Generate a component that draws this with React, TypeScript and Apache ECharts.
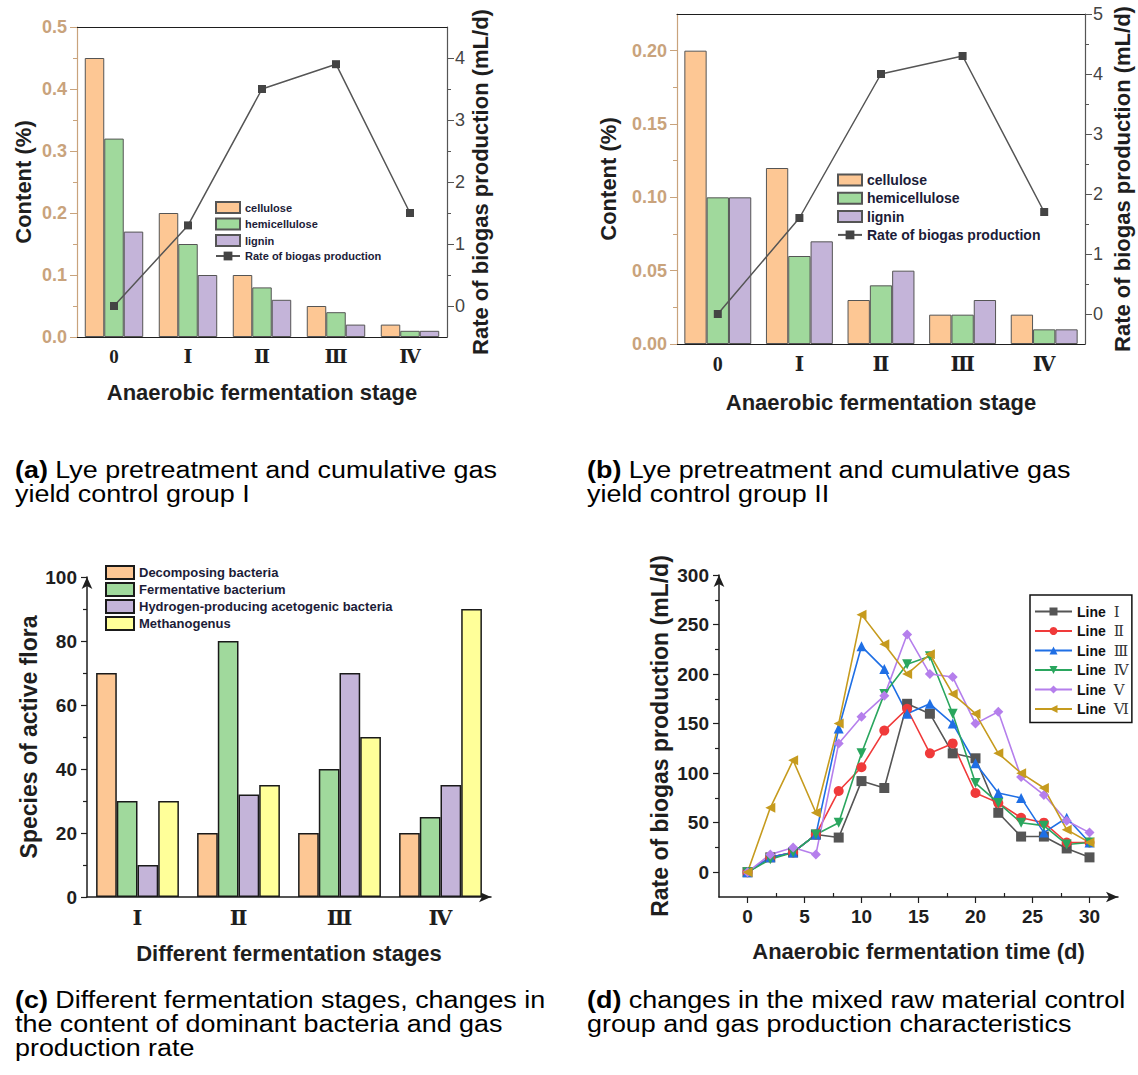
import React, { useEffect, useRef } from "react";
import * as echarts from "echarts";

// ---------- data ----------
const stagesAB = ["0", "Ⅰ", "Ⅱ", "Ⅲ", "Ⅳ"];
const celluloseA = [0.45, 0.2, 0.1, 0.05, 0.02];
const hemicelluloseA = [0.32, 0.15, 0.08, 0.04, 0.01];
const ligninA = [0.17, 0.1, 0.06, 0.02, 0.01];
const rateA = [0, 1.3, 3.5, 3.9, 1.5];

const celluloseB = [0.2, 0.12, 0.03, 0.02, 0.02];
const hemicelluloseB = [0.1, 0.06, 0.04, 0.02, 0.01];
const ligninB = [0.1, 0.07, 0.05, 0.03, 0.01];
const rateB = [0, 1.6, 4.0, 4.3, 1.7];

const stagesC = ["Ⅰ", "Ⅱ", "Ⅲ", "Ⅳ"];
const decomposing = [70, 20, 20, 20];
const fermentative = [30, 80, 40, 25];
const hydrogenProducing = [10, 32, 70, 35];
const methanogenus = [30, 35, 50, 90];

const days = [0, 2, 4, 6, 8, 10, 12, 14, 16, 18, 20, 22, 24, 26, 28, 30];
const lineI = [0, 15, 20, 38, 35, 92, 85, 170, 160, 120, 115, 60, 36, 36, 24, 15];
const lineII = [0, 15, 20, 38, 82, 106, 143, 165, 120, 130, 80, 70, 55, 50, 30, 30];
const lineIII = [0, 15, 20, 38, 145, 228, 205, 160, 170, 150, 110, 80, 75, 40, 55, 30];
const lineIV = [0, 13, 20, 38, 50, 120, 180, 210, 218, 160, 90, 70, 50, 47, 28, 30];
const lineV = [0, 18, 25, 18, 130, 157, 178, 240, 200, 197, 150, 162, 96, 78, 52, 40];
const lineVI = [0, 65, 113, 60, 150, 260, 230, 200, 220, 180, 160, 120, 100, 85, 43, 30];

const rightTicksA = [0, 1, 2, 3, 4];
const rightMinorA = [0.5, 1.5, 2.5, 3.5];
const leftTicksB = [0, 0.05, 0.1, 0.15, 0.2];
const leftMinorB = [0.025, 0.075, 0.125, 0.175];
const rightTicksB = [0, 1, 2, 3, 4, 5];
const rightMinorB = [0.5, 1.5, 2.5, 3.5, 4.5];
const yTicksD = [0, 50, 100, 150, 200, 250, 300];
const yMinorD = [25, 75, 125, 175, 225, 275];
const xTicksD = [0, 5, 10, 15, 20, 25, 30];
const xMinorD = [2.5, 7.5, 12.5, 17.5, 22.5, 27.5];

const captionA = ["{b|(a)} Lye pretreatment and cumulative gas", "yield control group I"];
const captionB = ["{b|(b)} Lye pretreatment and cumulative gas", "yield control group II"];
const captionC = [
  "{b|(c)} Different fermentation stages, changes in",
  "the content of dominant bacteria and gas",
  "production rate",
];
const captionD = [
  "{b|(d)} changes in the mixed raw material control",
  "group and gas production characteristics",
];

// ---------- styles ----------
const SANS = "'Liberation Sans', Arial, sans-serif";
const SERIF = "'Liberation Serif', 'DejaVu Serif', serif";
const TAN = "#c9a37c";
const DARK = "#1e1e1e";
const C_ORANGE = "#fdc794";
const C_GREEN = "#a0d99c";
const C_PURPLE = "#c4b4d9";
const C_YELLOW = "#ffff99";

const nameStyle = (size: number) => ({
  fontSize: size,
  fontWeight: "bold",
  fontFamily: SANS,
  color: DARK,
});

function barSeries(name: string, data: number[], color: string, xi: number, yi: number, border: string, bw: number, gap: string) {
  return {
    type: "bar",
    name,
    data,
    xAxisIndex: xi,
    yAxisIndex: yi,
    barGap: "0%",
    barCategoryGap: gap,
    itemStyle: { color, borderColor: border, borderWidth: bw },
  };
}

function rateSeries(data: number[], xi: number, yi: number) {
  return {
    type: "line",
    name: "Rate of biogas production",
    data,
    xAxisIndex: xi,
    yAxisIndex: yi,
    symbol: "rect",
    symbolSize: 8,
    itemStyle: { color: "#444" },
    lineStyle: { color: "#555", width: 1.5 },
    z: 5,
  };
}

const lineNames = ["Line Ⅰ", "Line Ⅱ", "Line Ⅲ", "Line Ⅳ", "Line Ⅴ", "Line Ⅵ"];
const lineData = [lineI, lineII, lineIII, lineIV, lineV, lineVI];
const lineColors = ["#555555", "#f03a3a", "#1f6fe5", "#2aa65e", "#b57fec", "#c69b1e"];
const lineSymbols = ["rect", "circle", "triangle", "triangle", "diamond", "triangle"];
const lineRotates = [0, 0, 0, 180, 0, 90];

function captionElements(lines: string[], x: number, y0: number) {
  return lines.map((t, i) => ({
    type: "text",
    x,
    y: y0 + i * 23.8,
    scaleX: 1.145,
    style: {
      text: t,
      fontSize: 23.5,
      fontFamily: SANS,
      fill: "#000",
      verticalAlign: "middle",
      align: "left",
      rich: {
        b: { fontSize: 23.5, fontFamily: SANS, fontWeight: "bold", fill: "#000" },
      },
    },
  }));
}

function buildOption() {
  const series: any[] = [
    barSeries("cellulose", celluloseA, C_ORANGE, 0, 0, "#555", 1, "21%"),
    barSeries("hemicellulose", hemicelluloseA, C_GREEN, 0, 0, "#555", 1, "21%"),
    barSeries("lignin", ligninA, C_PURPLE, 0, 0, "#555", 1, "21%"),
    rateSeries(rateA, 0, 1),
    barSeries("cellulose", celluloseB, C_ORANGE, 2, 3, "#555", 1, "18%"),
    barSeries("hemicellulose", hemicelluloseB, C_GREEN, 2, 3, "#555", 1, "18%"),
    barSeries("lignin", ligninB, C_PURPLE, 2, 3, "#555", 1, "18%"),
    rateSeries(rateB, 2, 5),
    barSeries("Decomposing bacteria", decomposing, C_ORANGE, 4, 7, "#1a1a1a", 1.5, "18%"),
    barSeries("Fermentative bacterium", fermentative, C_GREEN, 4, 7, "#1a1a1a", 1.5, "18%"),
    barSeries("Hydrogen-producing acetogenic bacteria", hydrogenProducing, C_PURPLE, 4, 7, "#1a1a1a", 1.5, "18%"),
    barSeries("Methanogenus", methanogenus, C_YELLOW, 4, 7, "#1a1a1a", 1.5, "18%"),
  ];
  lineNames.forEach((n, i) => {
    series.push({
      type: "line",
      name: n,
      xAxisIndex: 5,
      yAxisIndex: 8,
      data: days.map((d, k) => [d, lineData[i][k]]),
      symbol: lineSymbols[i],
      symbolRotate: lineRotates[i],
      symbolSize: 10,
      itemStyle: { color: lineColors[i] },
      lineStyle: { color: lineColors[i], width: 1.6 },
    });
  });

  const xAxis: any[] = [
    // 0: (a) bottom
    {
      type: "category", gridIndex: 0, position: "bottom", data: stagesAB,
      axisLine: { onZero: false, lineStyle: { color: DARK, width: 1.2 } },
      axisTick: { alignWithLabel: true, length: 6, lineStyle: { color: DARK } },
      axisLabel: { fontFamily: SERIF, fontWeight: "bold", fontSize: 19, color: DARK, margin: 10 },
      name: "Anaerobic fermentation stage", nameLocation: "middle", nameGap: 44, nameTextStyle: nameStyle(22),
    },
    // 1: (a) top border
    {
      type: "category", gridIndex: 0, position: "top", data: stagesAB,
      axisLine: { onZero: false, lineStyle: { color: DARK, width: 1.2 } },
      axisTick: { alignWithLabel: true, inside: true, length: 5, lineStyle: { color: DARK } },
      axisLabel: { show: false },
    },
    // 2: (b) bottom
    {
      type: "category", gridIndex: 1, position: "bottom", data: stagesAB,
      axisLine: { onZero: false, lineStyle: { color: DARK, width: 1.2 } },
      axisTick: { alignWithLabel: true, length: 6, lineStyle: { color: DARK } },
      axisLabel: { fontFamily: SERIF, fontWeight: "bold", fontSize: 20, color: DARK, margin: 10 },
      name: "Anaerobic fermentation stage", nameLocation: "middle", nameGap: 47, nameTextStyle: nameStyle(22),
    },
    // 3: (b) top border
    {
      type: "category", gridIndex: 1, position: "top", data: stagesAB,
      axisLine: { onZero: false, lineStyle: { color: DARK, width: 1.2 } },
      axisTick: { alignWithLabel: true, inside: true, length: 5, lineStyle: { color: DARK } },
      axisLabel: { show: false },
    },
    // 4: (c) bottom
    {
      type: "category", gridIndex: 2, position: "bottom", data: stagesC,
      axisLine: { onZero: false, symbol: ["none", "arrow"], symbolSize: [8, 12], lineStyle: { color: DARK, width: 1.5 } },
      axisTick: { length: 6, lineStyle: { color: DARK, width: 1.2 } },
      axisLabel: { fontFamily: SERIF, fontWeight: "bold", fontSize: 21, color: DARK, margin: 10 },
      name: "Different fermentation stages", nameLocation: "middle", nameGap: 45, nameTextStyle: nameStyle(22),
    },
    // 5: (d) bottom
    {
      type: "value", gridIndex: 3, position: "bottom", min: -2.5, max: 32.5,
      axisLine: { onZero: false, symbol: ["none", "arrow"], symbolSize: [8, 12], lineStyle: { color: DARK, width: 1.5 } },
      axisTick: { customValues: xTicksD, length: 6, lineStyle: { color: DARK, width: 1.2 } },
      axisLabel: { customValues: xTicksD, fontFamily: SANS, fontWeight: "bold", fontSize: 19, color: DARK, margin: 10 },
      splitLine: { show: false },
      name: "Anaerobic fermentation time (d)", nameLocation: "middle", nameGap: 43, nameTextStyle: nameStyle(22),
    },
    // 6: (d) minor ticks
    {
      type: "value", gridIndex: 3, position: "bottom", min: -2.5, max: 32.5,
      axisLine: { onZero: false, show: false },
      axisTick: { customValues: xMinorD, inside: true, length: 4, lineStyle: { color: DARK, width: 1.2 } },
      axisLabel: { show: false },
      splitLine: { show: false },
    },
  ];

  const yAxis: any[] = [
    // 0: (a) left
    {
      type: "value", gridIndex: 0, position: "left", min: 0, max: 0.5, interval: 0.1,
      axisLine: { show: true, onZero: false, lineStyle: { color: TAN, width: 1.2 } },
      axisTick: { show: true, length: 7, lineStyle: { color: TAN } },
      minorTick: { show: true, splitNumber: 2, length: 4, lineStyle: { color: TAN } },
      axisLabel: { formatter: (v: number) => v.toFixed(1), fontFamily: SANS, fontWeight: "bold", fontSize: 18, color: TAN, margin: 10 },
      splitLine: { show: false },
      name: "Content (%)", nameLocation: "middle", nameGap: 43, nameTextStyle: nameStyle(22),
    },
    // 1: (a) right
    {
      type: "value", gridIndex: 0, position: "right", min: -0.5, max: 4.5,
      axisLine: { show: true, onZero: false, lineStyle: { color: "#555", width: 1.2 } },
      axisTick: { show: true, customValues: rightTicksA, length: 7, lineStyle: { color: "#555" } },
      axisLabel: { customValues: rightTicksA, fontFamily: SANS, fontSize: 18, color: "#444", margin: 8 },
      splitLine: { show: false },
      name: "Rate of biogas production (mL/d)", nameLocation: "middle", nameGap: 22, nameTextStyle: nameStyle(22),
    },
    // 2: (a) right minor
    {
      type: "value", gridIndex: 0, position: "right", min: -0.5, max: 4.5,
      axisLine: { show: false, onZero: false },
      axisTick: { show: true, customValues: rightMinorA, length: 4, lineStyle: { color: "#555" } },
      axisLabel: { show: false },
      splitLine: { show: false },
    },
    // 3: (b) left
    {
      type: "value", gridIndex: 1, position: "left", min: 0, max: 0.225,
      axisLine: { show: true, onZero: false, lineStyle: { color: TAN, width: 1.2 } },
      axisTick: { show: true, customValues: leftTicksB, length: 7, lineStyle: { color: TAN } },
      axisLabel: { customValues: leftTicksB, formatter: (v: number) => v.toFixed(2), fontFamily: SANS, fontWeight: "bold", fontSize: 18, color: TAN, margin: 10 },
      splitLine: { show: false },
      name: "Content (%)", nameLocation: "middle", nameGap: 58, nameTextStyle: nameStyle(22),
    },
    // 4: (b) left minor
    {
      type: "value", gridIndex: 1, position: "left", min: 0, max: 0.225,
      axisLine: { show: false, onZero: false },
      axisTick: { show: true, customValues: leftMinorB, length: 4, lineStyle: { color: TAN } },
      axisLabel: { show: false },
      splitLine: { show: false },
    },
    // 5: (b) right
    {
      type: "value", gridIndex: 1, position: "right", min: -0.5, max: 5,
      axisLine: { show: true, onZero: false, lineStyle: { color: "#555", width: 1.2 } },
      axisTick: { show: true, customValues: rightTicksB, length: 7, lineStyle: { color: "#555" } },
      axisLabel: { customValues: rightTicksB, fontFamily: SANS, fontSize: 18, color: "#444", margin: 8 },
      splitLine: { show: false },
      name: "Rate of biogas production (mL/d)", nameLocation: "middle", nameGap: 26, nameTextStyle: nameStyle(22),
    },
    // 6: (b) right minor
    {
      type: "value", gridIndex: 1, position: "right", min: -0.5, max: 5,
      axisLine: { show: false, onZero: false },
      axisTick: { show: true, customValues: rightMinorB, length: 4, lineStyle: { color: "#555" } },
      axisLabel: { show: false },
      splitLine: { show: false },
    },
    // 7: (c) left
    {
      type: "value", gridIndex: 2, position: "left", min: 0, max: 100, interval: 20,
      axisLine: { show: true, onZero: false, symbol: ["none", "arrow"], symbolSize: [8, 12], lineStyle: { color: DARK, width: 1.5 } },
      axisTick: { show: true, length: 6, lineStyle: { color: DARK, width: 1.2 } },
      minorTick: { show: true, splitNumber: 2, length: 4, lineStyle: { color: DARK, width: 1.2 } },
      axisLabel: { fontFamily: SANS, fontWeight: "bold", fontSize: 19, color: DARK, margin: 10 },
      splitLine: { show: false },
      name: "Species of active flora", nameLocation: "middle", nameGap: 47, nameTextStyle: nameStyle(23),
    },
    // 8: (d) left
    {
      type: "value", gridIndex: 3, position: "left", min: -25, max: 300,
      axisLine: { show: true, onZero: false, symbol: ["none", "arrow"], symbolSize: [8, 12], lineStyle: { color: DARK, width: 1.5 } },
      axisTick: { show: true, customValues: yTicksD, length: 6, lineStyle: { color: DARK, width: 1.2 } },
      axisLabel: { customValues: yTicksD, fontFamily: SANS, fontWeight: "bold", fontSize: 19, color: DARK, margin: 10 },
      splitLine: { show: false },
      name: "Rate of biogas production (mL/d)", nameLocation: "middle", nameGap: 48, nameTextStyle: nameStyle(23),
    },
    // 9: (d) left minor
    {
      type: "value", gridIndex: 3, position: "left", min: -25, max: 300,
      axisLine: { show: false, onZero: false },
      axisTick: { show: true, customValues: yMinorD, length: 4, lineStyle: { color: DARK, width: 1.2 } },
      axisLabel: { show: false },
      splitLine: { show: false },
    },
  ];

  const legendText = (size: number) => ({ fontSize: size, fontWeight: "bold", fontFamily: SANS, color: "#1c1c38" });

  const legend: any[] = [
    {
      orient: "vertical", left: 215, top: 201, padding: 0, itemWidth: 24, itemHeight: 11, itemGap: 3.5,
      data: [
        { name: "cellulose", icon: "rect" },
        { name: "hemicellulose", icon: "rect" },
        { name: "lignin", icon: "rect" },
        { name: "Rate of biogas production" },
      ],
      textStyle: legendText(11),
    },
    {
      orient: "vertical", left: 837, top: 173, padding: 0, itemWidth: 24, itemHeight: 11, itemGap: 4.3,
      data: [
        { name: "cellulose", icon: "rect" },
        { name: "hemicellulose", icon: "rect" },
        { name: "lignin", icon: "rect" },
        { name: "Rate of biogas production" },
      ],
      textStyle: legendText(14),
    },
    {
      orient: "vertical", left: 105, top: 565, padding: 0, itemWidth: 28, itemHeight: 13, itemGap: 2,
      data: [
        { name: "Decomposing bacteria", icon: "rect" },
        { name: "Fermentative bacterium", icon: "rect" },
        { name: "Hydrogen-producing acetogenic bacteria", icon: "rect" },
        { name: "Methanogenus", icon: "rect" },
      ],
      textStyle: legendText(13),
    },
    {
      orient: "vertical", left: 1030, top: 595, padding: [9, 3, 6, 4], itemWidth: 37, itemHeight: 10, itemGap: 4.5,
      borderColor: "#111", borderWidth: 1.5,
      data: lineNames,
      formatter: (name: string) => {
        const parts = name.split(" ");
        return `{t|${parts[0]}}{r|${parts[1]}}`;
      },
      textStyle: {
        rich: {
          t: { fontSize: 14, fontWeight: "bold", fontFamily: SANS, color: "#111" },
          r: { fontSize: 15, fontFamily: SERIF, color: "#333", padding: [0, 0, 0, 8] },
        },
      },
    },
  ];

  const graphic: any[] = [
    ...captionElements(captionA, 15, 470),
    ...captionElements(captionB, 587, 470),
    ...captionElements(captionC, 15, 1000),
    ...captionElements(captionD, 587, 1000),
  ];

  return {
    animation: false,
    backgroundColor: "#ffffff",
    textStyle: { fontFamily: SANS },
    grid: [
      { left: 77, top: 27, width: 370, height: 310, containLabel: false },
      { left: 677, top: 14, width: 408, height: 330, containLabel: false },
      { left: 87, top: 577, width: 404, height: 320, containLabel: false },
      { left: 719, top: 575, width: 399, height: 322, containLabel: false },
    ],
    xAxis,
    yAxis,
    legend,
    graphic,
    series,
  };
}

export default function App() {
  const ref = useRef<HTMLDivElement>(null);
  useEffect(() => {
    document.body.style.margin = "0";
    const chart = echarts.init(ref.current as HTMLDivElement, null, { renderer: "svg" });
    chart.setOption(buildOption() as any);
    return () => chart.dispose();
  }, []);
  return <div ref={ref} style={{ width: 1138, height: 1075 }} />;
}
